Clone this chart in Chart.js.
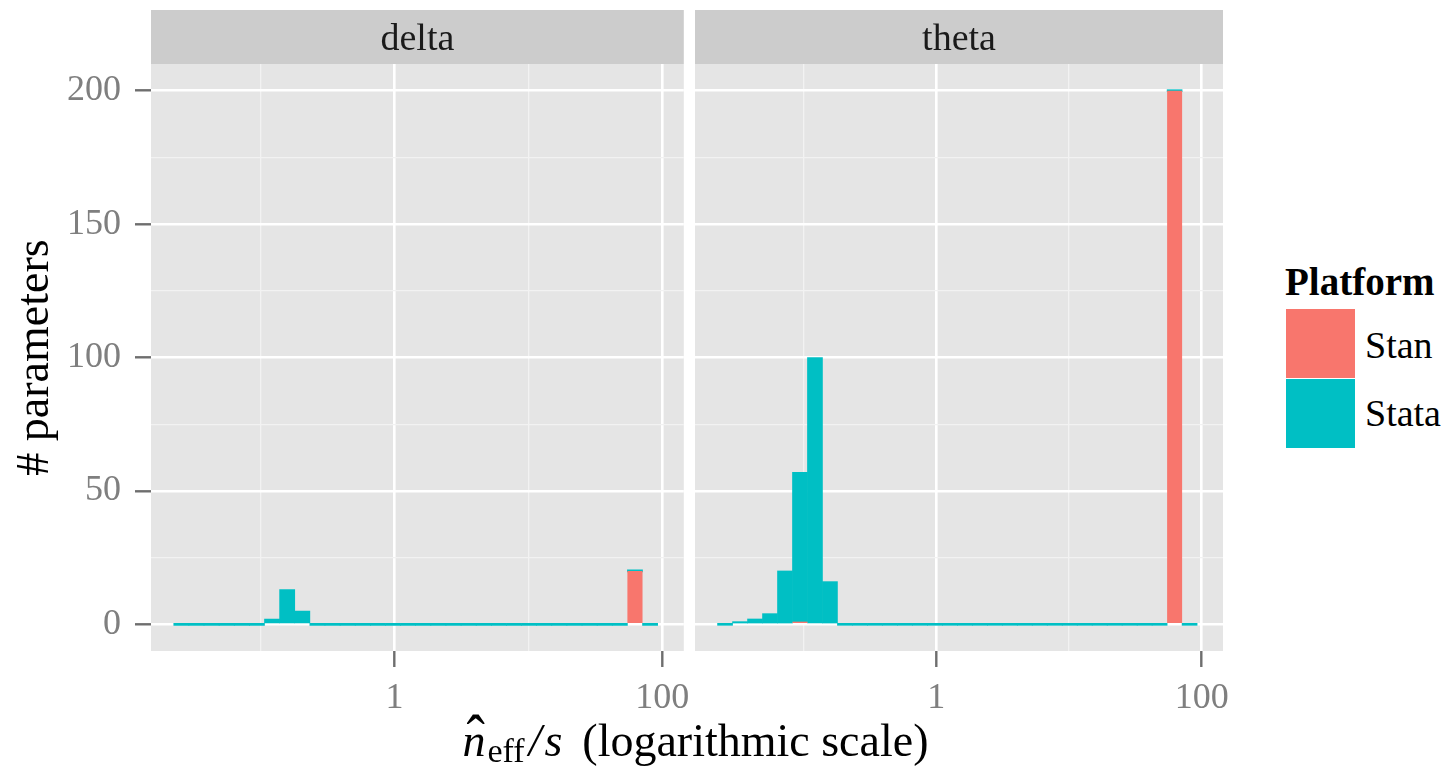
<!DOCTYPE html>
<html>
<head>
<meta charset="utf-8">
<script src="https://cdn.jsdelivr.net/npm/chart.js@4"></script>
<style>
  body { margin: 0; background: #fff; }
  #wrap { position: relative; width: 1449px; height: 773px; overflow: hidden; font-family: "Liberation Serif", serif; }
  canvas { position: absolute; top: 0; }
  #c1 { left: 0; }
  #c2 { left: 690px; }
  .txt { position: absolute; line-height: 1; white-space: nowrap; color: #000; }
  #xtitle { left: 157px; width: 1077px; top: 718px; font-size: 46px; text-align: center; }
  .nhat { position: relative; }
  .hat { position: absolute; left: 5px; top: 0px; font-style: normal; transform: scale(1.2, 1.4); }
  .sub { font-size: 34px; position: relative; top: 6px; margin-left: 2px; }
  .slash { font-style: italic; margin: 0 3px 0 4px; }
  .svar { font-style: italic; margin-right: 20px; }
  #ltitle { left: 1285px; top: 262px; font-size: 39px; font-weight: bold; }
  .key { position: absolute; left: 1286px; width: 69px; }
  #kStan { top: 309px; height: 69px; background: #F8766D; }
  #kStata { top: 379px; height: 69px; background: #00BFC4; }
  #lStan { left: 1365px; top: 326px; font-size: 38px; }
  #lStata { left: 1365px; top: 394px; font-size: 38px; }
</style>
</head>
<body>
<div id="wrap">
  <canvas id="c1" width="700" height="773"></canvas>
  <canvas id="c2" width="560" height="773"></canvas>
  <div class="txt" id="xtitle"><span class="nhat"><i>n</i><span class="hat">ˆ</span></span><span class="sub">eff</span><span class="slash">/</span><span class="svar">s</span>(logarithmic scale)</div>
  <div class="txt" id="ltitle">Platform</div>
  <div class="key" id="kStan"></div>
  <div class="key" id="kStata"></div>
  <div class="txt" id="lStan">Stan</div>
  <div class="txt" id="lStata">Stata</div>
</div>
<script>
// histogram bins on log10(n_eff / s)
const binStart = -1.648;
const binWidth = 0.1129;
const binCount = 32;

// counts per bin (32 bins)
const deltaStan  = [0,0,0,0,0,0,0,0,0,0, 0,0,0,0,0,0,0,0,0,0, 0,0,0,0,0,0,0,0,0,0, 20,0];
const deltaStata = [0,0,0,0,0,0,2,13,5,0, 0,0,0,0,0,0,0,0,0,0, 0,0,0,0,0,0,0,0,0,0, 0,0];
const thetaStan  = [0,0,0,0,0,1,0,0,0,0, 0,0,0,0,0,0,0,0,0,0, 0,0,0,0,0,0,0,0,0,0, 200,0];
const thetaStata = [0,1,2,4,20,56,100,16,0,0, 0,0,0,0,0,0,0,0,0,0, 0,0,0,0,0,0,0,0,0,0, 0,0];

const xTickValues = [-1, 0, 1, 2];
const xTickLabels = ['', '1', '', '100'];
const yTickValues = [0, 25, 50, 75, 100, 125, 150, 175, 200];
const yTickLabels = ['0', '', '50', '', '100', '', '150', '', '200'];

const xMin = -1.818, xMax = 2.160;
const yMin = -10, yMax = 210;

const binCenters = Array.from({ length: binCount }, (_, i) => binStart + binWidth * (i + 0.5));
const toPoints = counts => counts.map((c, i) => ({ x: binCenters[i], y: c }));

const serif = '"Liberation Serif", serif';
const STAN = '#F8766D', STATA = '#00BFC4';

const tickVal = c => (c && c.tick) ? c.tick.value : NaN;

// panel background + facet strip
const stripPlugin = {
  id: 'strip',
  beforeDraw(chart, args, opts) {
    const { ctx, chartArea: a } = chart;
    ctx.save();
    ctx.fillStyle = '#E5E5E5';
    ctx.fillRect(a.left, a.top, a.right - a.left, a.bottom - a.top);
    ctx.fillStyle = '#CCCCCC';
    ctx.fillRect(a.left, 10, a.right - a.left, a.top - 10);
    ctx.fillStyle = '#1A1A1A';
    ctx.font = '38px ' + serif;
    ctx.textAlign = 'center';
    ctx.textBaseline = 'alphabetic';
    ctx.fillText(opts.text, (a.left + a.right) / 2, 50);
    ctx.restore();
  }
};

function makePanel(id, name, stan, stata, first) {
  const isMajorX = c => { const v = tickVal(c); return v === 0 || v === 2; };
  const isMajorY = c => tickVal(c) % 50 === 0;
  return new Chart(document.getElementById(id), {
    type: 'bar',
    data: {
      datasets: [
        { label: 'Stan', data: toPoints(stan), backgroundColor: STAN, borderWidth: 0,
          barPercentage: 1, categoryPercentage: 1, inflateAmount: 0 },
        { label: 'Stata', data: toPoints(stata), backgroundColor: STATA, borderWidth: 0,
          barPercentage: 1, categoryPercentage: 1, minBarLength: 2 }
      ]
    },
    options: {
      responsive: false,
      animation: false,
      devicePixelRatio: 1,
      layout: { padding: { top: 64, bottom: 0, left: first ? 0 : 5, right: first ? 16 : 27 } },
      plugins: {
        legend: { display: false },
        tooltip: { enabled: false },
        strip: { text: name }
      },
      scales: {
        x: {
          type: 'linear', min: xMin, max: xMax, stacked: true, offset: false,
          afterBuildTicks: s => { s.ticks = xTickValues.map(v => ({ value: v })); },
          afterFit: s => { s.height = 122; },
          border: { display: false },
          grid: {
            offset: false,
            color: c => isMajorX(c) ? '#FFFFFF' : '#F2F2F2',
            lineWidth: c => isMajorX(c) ? 2.6 : 1.3,
            tickColor: c => isMajorX(c) ? '#6E6E6E' : 'rgba(0,0,0,0)',
            tickWidth: 2.4,
            tickLength: 16
          },
          ticks: {
            autoSkip: false, maxRotation: 0,
            color: '#7F7F7F', font: { family: serif, size: 36 }, padding: 10,
            callback: v => xTickLabels[xTickValues.indexOf(v)] ?? ''
          }
        },
        y: {
          min: yMin, max: yMax, stacked: true,
          afterBuildTicks: s => { s.ticks = yTickValues.map(v => ({ value: v })); },
          afterFit: s => { s.width = first ? 151 : 0; },
          border: { display: false },
          grid: {
            color: c => isMajorY(c) ? '#FFFFFF' : '#F2F2F2',
            lineWidth: c => isMajorY(c) ? 2.6 : 1.3,
            tickColor: c => isMajorY(c) ? '#6E6E6E' : 'rgba(0,0,0,0)',
            tickWidth: 2.4,
            tickLength: 16,
            drawTicks: first
          },
          ticks: {
            display: first, autoSkip: false,
            color: '#7F7F7F', font: { family: serif, size: 36 }, padding: 14,
            callback: v => yTickLabels[yTickValues.indexOf(v)] ?? ''
          },
          title: {
            display: first, text: '# parameters', color: '#000',
            font: { family: serif, size: 46 }, padding: { top: 8, bottom: 0 }
          }
        }
      }
    },
    plugins: [stripPlugin]
  });
}

makePanel('c1', 'delta', deltaStan, deltaStata, true);
makePanel('c2', 'theta', thetaStan, thetaStata, false);
</script>
</body>
</html>
